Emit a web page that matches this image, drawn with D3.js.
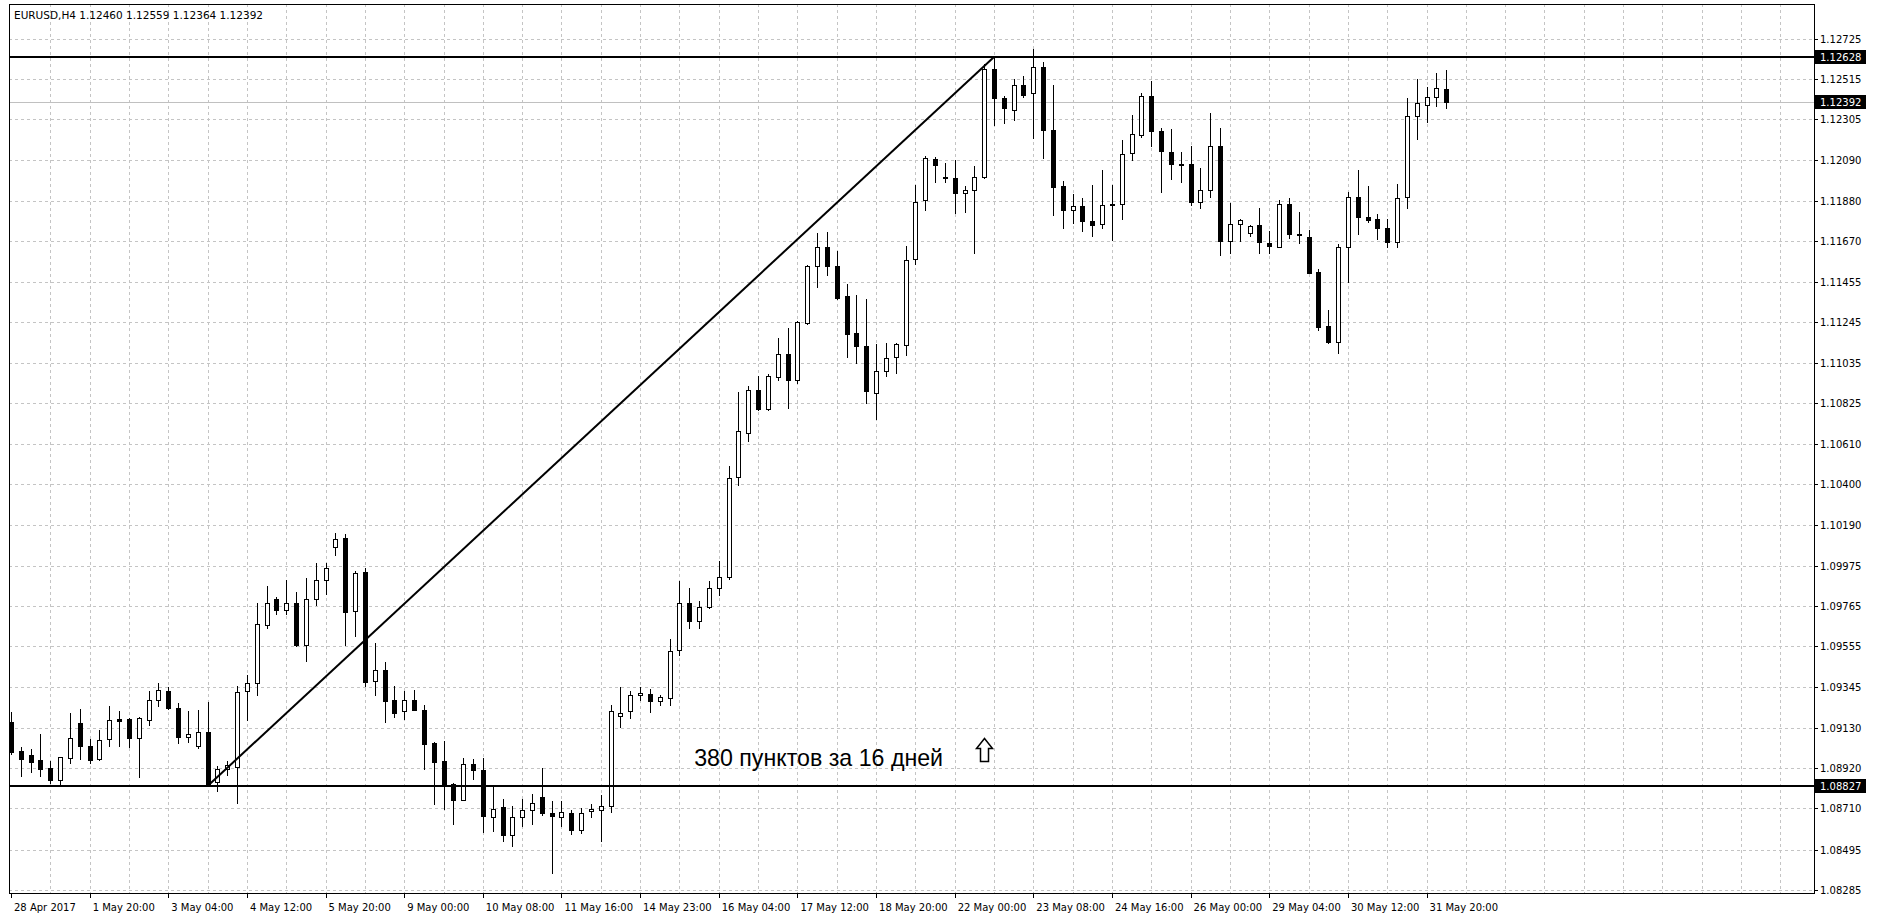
<!DOCTYPE html>
<html>
<head>
<meta charset="utf-8">
<title>EURUSD,H4</title>
<script src="https://cdnjs.cloudflare.com/ajax/libs/d3/7.8.5/d3.min.js"></script>
<style>
  body { margin: 0; background: #fff; }
  svg { display: block; }
  text { font-family: "DejaVu Sans", Tahoma, sans-serif; font-size: 10px; fill: #000; }
</style>
</head>
<body>
<script>
// EURUSD H4, 28 Apr - 1 Jun 2017, one entry per bar
const symbolName = "EURUSD,H4";

const opens = [
  1.09163, 1.09008, 1.08989, 1.08963, 1.08919, 1.08857, 1.08973, 1.09156, 1.09037, 1.08968,
  1.09072, 1.09175, 1.09177, 1.09076, 1.09171, 1.09278, 1.09325, 1.09232, 1.09081, 1.09034,
  1.09111, 1.08846, 1.08916, 1.08924, 1.09325, 1.09365, 1.09666, 1.09803, 1.09743, 1.09783,
  1.09565, 1.09803, 1.09904, 1.10073, 1.10118, 1.09739, 1.09944, 1.09377, 1.09431, 1.09276,
  1.09217, 1.09278, 1.09226, 1.09052, 1.08956, 1.08839, 1.08756, 1.08942, 1.08909, 1.08666,
  1.08720, 1.08571, 1.08665, 1.08703, 1.08769, 1.08684, 1.08665, 1.08688, 1.08599, 1.08697,
  1.08703, 1.08722, 1.09192, 1.09220, 1.09300, 1.09308, 1.09270, 1.09285, 1.09539, 1.09784,
  1.09690, 1.09759, 1.09859, 1.09915, 1.10436, 1.10668, 1.10894, 1.10793, 1.10960, 1.11080,
  1.10942, 1.11241, 1.11540, 1.11638, 1.11540, 1.11380, 1.11189, 1.11123, 1.10876, 1.10993,
  1.11064, 1.11128, 1.11575, 1.11885, 1.12097, 1.12003, 1.11998, 1.11919, 1.11933, 1.12003,
  1.12566, 1.12415, 1.12354, 1.12484, 1.12441, 1.12577, 1.12250, 1.11958, 1.11829, 1.11850,
  1.11772, 1.11759, 1.11858, 1.11862, 1.12128, 1.12224, 1.12427, 1.12241, 1.12131, 1.12072,
  1.12072, 1.11872, 1.11933, 1.12163, 1.11667, 1.11759, 1.11711, 1.11754, 1.11659, 1.11639,
  1.11860, 1.11706, 1.11692, 1.11509, 1.11226, 1.11144, 1.11636, 1.11900, 1.11796, 1.11782,
  1.11739, 1.11665, 1.11900, 1.12321, 1.12378, 1.12418, 1.12460
];
const highs = [
  1.09212, 1.09029, 1.09020, 1.09098, 1.08957, 1.08980, 1.09208, 1.09229, 1.09072, 1.09119,
  1.09246, 1.09220, 1.09180, 1.09185, 1.09325, 1.09365, 1.09342, 1.09260, 1.09220, 1.09225,
  1.09264, 1.08933, 1.08960, 1.09347, 1.09408, 1.09783, 1.09870, 1.09812, 1.09899, 1.09840,
  1.09913, 1.09991, 1.09991, 1.10148, 1.10139, 1.09948, 1.09965, 1.09574, 1.09475, 1.09348,
  1.09322, 1.09327, 1.09252, 1.09055, 1.09060, 1.08842, 1.08973, 1.08970, 1.08973, 1.08826,
  1.08760, 1.08722, 1.08759, 1.08787, 1.08919, 1.08750, 1.08750, 1.08703, 1.08712, 1.08731,
  1.08778, 1.09248, 1.09342, 1.09323, 1.09342, 1.09332, 1.09304, 1.09596, 1.09896, 1.09859,
  1.09793, 1.09896, 1.10000, 1.10498, 1.10883, 1.10911, 1.10963, 1.10977, 1.11163, 1.11215,
  1.11250, 1.11545, 1.11711, 1.11714, 1.11615, 1.11445, 1.11389, 1.11367, 1.11133, 1.11137,
  1.11137, 1.11641, 1.11963, 1.12111, 1.12107, 1.12076, 1.12090, 1.11954, 1.12062, 1.12590,
  1.12628, 1.12424, 1.12514, 1.12531, 1.12670, 1.12601, 1.12484, 1.11980, 1.11916, 1.11893,
  1.11959, 1.12041, 1.11963, 1.12198, 1.12328, 1.12441, 1.12502, 1.12258, 1.12253, 1.12131,
  1.12163, 1.12050, 1.12337, 1.12258, 1.11867, 1.11786, 1.11754, 1.11841, 1.11719, 1.11883,
  1.11892, 1.11822, 1.11726, 1.11521, 1.11309, 1.11653, 1.11926, 1.12039, 1.11956, 1.11810,
  1.11784, 1.11965, 1.12413, 1.12514, 1.12474, 1.12547, 1.12559
];
const lows = [
  1.08994, 1.08881, 1.08902, 1.08877, 1.08843, 1.08825, 1.08947, 1.08968, 1.08947, 1.08964,
  1.09037, 1.09034, 1.09029, 1.08872, 1.09145, 1.09246, 1.09230, 1.09051, 1.09058, 1.09024,
  1.08827, 1.08803, 1.08885, 1.08738, 1.09174, 1.09304, 1.09652, 1.09722, 1.09722, 1.09558,
  1.09478, 1.09770, 1.09830, 1.10031, 1.09562, 1.09609, 1.09348, 1.09304, 1.09161, 1.09186,
  1.09177, 1.09222, 1.08918, 1.08733, 1.08707, 1.08629, 1.08752, 1.08864, 1.08585, 1.08591,
  1.08542, 1.08515, 1.08618, 1.08628, 1.08675, 1.08374, 1.08618, 1.08575, 1.08581, 1.08665,
  1.08543, 1.08693, 1.09135, 1.09182, 1.09276, 1.09214, 1.09248, 1.09248, 1.09511, 1.09652,
  1.09652, 1.09755, 1.09821, 1.09906, 1.10395, 1.10624, 1.10790, 1.10790, 1.10942, 1.10798,
  1.10928, 1.11238, 1.11429, 1.11493, 1.11367, 1.11064, 1.11033, 1.10824, 1.10741, 1.10967,
  1.10981, 1.11076, 1.11551, 1.11832, 1.11975, 1.11975, 1.11815, 1.11820, 1.11606, 1.12000,
  1.12276, 1.12284, 1.12298, 1.12420, 1.12206, 1.12102, 1.11806, 1.11737, 1.11763, 1.11719,
  1.11693, 1.11737, 1.11672, 1.11784, 1.12093, 1.12211, 1.12166, 1.11923, 1.11992, 1.11975,
  1.11859, 1.11841, 1.11898, 1.11598, 1.11606, 1.11667, 1.11693, 1.11606, 1.11606, 1.11639,
  1.11683, 1.11660, 1.11500, 1.11205, 1.11139, 1.11083, 1.11453, 1.11706, 1.11770, 1.11678,
  1.11636, 1.11636, 1.11839, 1.12199, 1.12291, 1.12373, 1.12364
];
const closes = [
  1.09006, 1.08968, 1.08954, 1.08916, 1.08857, 1.08977, 1.09078, 1.09037, 1.08964, 1.09069,
  1.09173, 1.09165, 1.09076, 1.09180, 1.09278, 1.09328, 1.09234, 1.09081, 1.09097, 1.09111,
  1.08829, 1.08916, 1.08935, 1.09316, 1.09365, 1.09673, 1.09783, 1.09743, 1.09783, 1.09562,
  1.09803, 1.09904, 1.09962, 1.10117, 1.09736, 1.09939, 1.09370, 1.09431, 1.09273, 1.09208,
  1.09276, 1.09224, 1.09048, 1.08951, 1.08829, 1.08752, 1.08942, 1.08909, 1.08672, 1.08707,
  1.08573, 1.08665, 1.08703, 1.08737, 1.08684, 1.08671, 1.08693, 1.08599, 1.08688, 1.08707,
  1.08722, 1.09220, 1.09210, 1.09304, 1.09314, 1.09270, 1.09289, 1.09530, 1.09784, 1.09690,
  1.09759, 1.09859, 1.09915, 1.10432, 1.10676, 1.10894, 1.10793, 1.10963, 1.11080, 1.10942,
  1.11245, 1.11540, 1.11638, 1.11537, 1.11372, 1.11186, 1.11123, 1.10885, 1.10993, 1.11059,
  1.11132, 1.11572, 1.11872, 1.12102, 1.12067, 1.11996, 1.11919, 1.11933, 1.12003, 1.12566,
  1.12415, 1.12363, 1.12484, 1.12432, 1.12577, 1.12246, 1.11951, 1.11829, 1.11850, 1.11772,
  1.11751, 1.11858, 1.11862, 1.12125, 1.12227, 1.12427, 1.12241, 1.12137, 1.12072, 1.12070,
  1.11871, 1.11937, 1.12163, 1.11667, 1.11759, 1.11777, 1.11745, 1.11662, 1.11641, 1.11860,
  1.11706, 1.11702, 1.11504, 1.11222, 1.11144, 1.11639, 1.11900, 1.11796, 1.11779, 1.11735,
  1.11665, 1.11892, 1.12321, 1.12391, 1.12418, 1.12465, 1.12392
];

// one time label every 8 bars
const timeLabels = [
  "28 Apr 2017", "1 May 20:00", "3 May 04:00", "4 May 12:00", "5 May 20:00",
  "9 May 00:00", "10 May 08:00", "11 May 16:00", "14 May 23:00", "16 May 04:00",
  "17 May 12:00", "18 May 20:00", "22 May 00:00", "23 May 08:00", "24 May 16:00",
  "26 May 00:00", "29 May 04:00", "30 May 12:00", "31 May 20:00"
];
const labelEvery = 8;

const priceTicks = [
  1.12725, 1.12515, 1.12305, 1.12090, 1.11880, 1.11670, 1.11455, 1.11245,
  1.11035, 1.10825, 1.10610, 1.10400, 1.10190, 1.09975, 1.09765, 1.09555,
  1.09345, 1.09130, 1.08920, 1.08710, 1.08495, 1.08285
];

// drawn objects
const resistance = 1.12628;
const support = 1.08827;
const bidPrice = 1.12392;
const trendStart = 20, trendEnd = 100;
const noteText = "380 пунктов за 16 дней";

document.addEventListener('DOMContentLoaded', () => {
  const W = 1880, H = 915;
  const left = 9, right = 1814, top = 4, bottom = 893;

  const svg = d3.select('body').append('svg').attr('width', W).attr('height', H);

  const x = d3.scaleLinear().domain([0, 146]).range([11, 11 + 146 * 9.83]);
  const y = d3.scaleLinear().domain([1.08285, 1.12725]).range([890, 38.5]);
  const px = v => Math.round(v) + 0.5;

  // grid
  const grid = svg.append('g').attr('stroke', '#c4c4c4').attr('stroke-dasharray', '3,3');
  grid.selectAll('line.h')
    .data(priceTicks)
    .enter()
    .append('line')
    .attr('x1', left).attr('x2', right)
    .attr('y1', d => px(y(d))).attr('y2', d => px(y(d)));

  const vIdx = d3.range(4, 181, 4);
  grid.selectAll('line.v')
    .data(vIdx)
    .enter()
    .append('line')
    .attr('x1', d => px(x(d))).attr('x2', d => px(x(d)))
    .attr('y1', top).attr('y2', bottom);

  // bid line
  svg.append('line')
    .attr('x1', left).attr('x2', right)
    .attr('y1', px(y(bidPrice))).attr('y2', px(y(bidPrice)))
    .attr('stroke', '#c0c0c0');

  // candles
  const bars = d3.range(opens.length).map(i => ({
    i: i, o: opens[i], h: highs[i], l: lows[i], c: closes[i]
  }));

  const candles = svg.append('g');
  candles.selectAll('line.wick')
    .data(bars)
    .enter()
    .append('line')
    .attr('x1', d => Math.round(x(d.i)) + 0.5)
    .attr('x2', d => Math.round(x(d.i)) + 0.5)
    .attr('y1', d => Math.round(y(d.h)))
    .attr('y2', d => Math.round(y(d.l)) + 1)
    .attr('stroke', '#000');

  candles.selectAll('rect.body')
    .data(bars)
    .enter()
    .append('rect')
    .each(function(d) {
      const cx = Math.round(x(d.i));
      const t = Math.round(y(Math.max(d.o, d.c)));
      const b = Math.round(y(Math.min(d.o, d.c)));
      const sel = d3.select(this);
      if (d.c >= d.o) {
        sel.attr('x', cx - 1.5).attr('width', 4)
          .attr('y', t + 0.5).attr('height', Math.max(b - t, 1))
          .attr('fill', '#fff').attr('stroke', '#000');
      } else {
        sel.attr('x', cx - 2).attr('width', 5)
          .attr('y', t).attr('height', Math.max(b - t, 1) + 1)
          .attr('fill', '#000');
      }
    });

  // horizontal levels and trend line
  [resistance, support].forEach(v => {
    svg.append('line')
      .attr('x1', left).attr('x2', right)
      .attr('y1', Math.round(y(v))).attr('y2', Math.round(y(v)))
      .attr('stroke', '#000').attr('stroke-width', 2);
  });

  svg.append('line')
    .attr('x1', x(trendStart)).attr('y1', y(lows[trendStart]))
    .attr('x2', x(trendEnd)).attr('y2', y(highs[trendEnd]))
    .attr('stroke', '#000').attr('stroke-width', 2);

  // note and arrow
  svg.append('text')
    .attr('x', x(69.5)).attr('y', y(1.08932))
    .style('font-family', '"Liberation Sans", Arial, sans-serif')
    .style('font-size', '23.2px')
    .text(noteText);

  const ax = Math.round(x(99)) + 0.5, ay = Math.round(y(1.09078)) + 0.5;
  const arrow = [[0, 0], [8, 10], [4, 10], [4, 23], [-4, 23], [-4, 10], [-8, 10]];
  svg.append('path')
    .attr('d', d3.line()(arrow.map(p => [ax + p[0], ay + p[1]])) + 'Z')
    .attr('fill', '#fff').attr('stroke', '#000').attr('stroke-width', 1.5)
    .attr('stroke-linejoin', 'miter');

  // frame
  svg.append('rect')
    .attr('x', left + 0.5).attr('y', top + 0.5)
    .attr('width', right - left).attr('height', bottom - top)
    .attr('fill', 'none').attr('stroke', '#000');

  // price axis
  const pa = svg.append('g');
  pa.selectAll('line')
    .data(priceTicks)
    .enter()
    .append('line')
    .attr('x1', right).attr('x2', right + 4)
    .attr('y1', d => px(y(d))).attr('y2', d => px(y(d)))
    .attr('stroke', '#000');
  pa.selectAll('text')
    .data(priceTicks)
    .enter()
    .append('text')
    .attr('x', right + 6)
    .attr('y', d => y(d) + 4)
    .text(d => d.toFixed(5));

  [resistance, bidPrice, support].forEach(v => {
    svg.append('rect')
      .attr('x', right + 1).attr('y', Math.round(y(v)) - 7)
      .attr('width', 51).attr('height', 14)
      .attr('fill', '#000');
    svg.append('text')
      .attr('x', right + 6).attr('y', y(v) + 4)
      .style('fill', '#fff')
      .text(v.toFixed(5));
  });

  // time axis
  const ta = svg.append('g');
  ta.selectAll('line')
    .data(timeLabels)
    .enter()
    .append('line')
    .attr('x1', (d, k) => px(x(k * labelEvery))).attr('x2', (d, k) => px(x(k * labelEvery)))
    .attr('y1', bottom).attr('y2', bottom + 5)
    .attr('stroke', '#000');
  ta.selectAll('text')
    .data(timeLabels)
    .enter()
    .append('text')
    .attr('x', (d, k) => x(k * labelEvery) + 3)
    .attr('y', 911)
    .text(d => d);

  // header
  svg.append('text')
    .attr('x', 14).attr('y', 19)
    .style('font-size', '10.5px')
    .text(symbolName + "  " + [opens[146], highs[146], lows[146], closes[146]].map(v => v.toFixed(5)).join(' '));
});
</script>
</body>
</html>
